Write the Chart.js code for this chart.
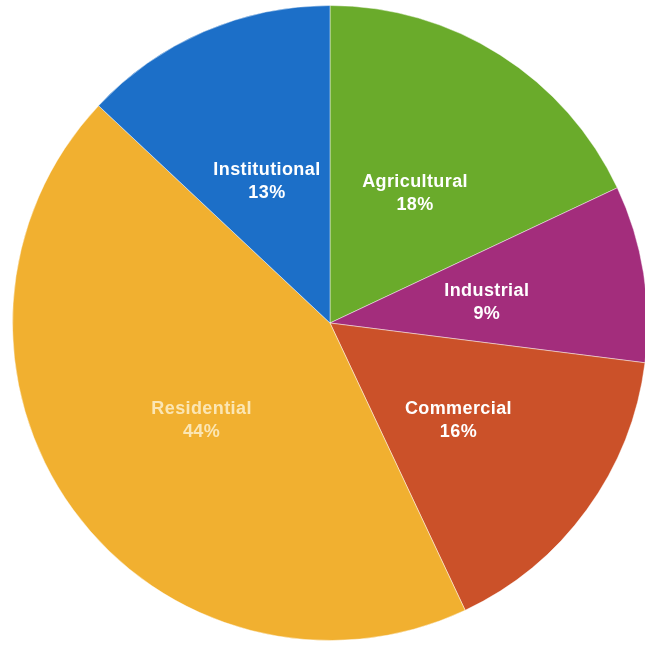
<!DOCTYPE html>
<html>
<head>
<meta charset="utf-8">
<script src="https://cdn.jsdelivr.net/npm/chart.js@4.4.1/dist/chart.umd.min.js"></script>
<style>
  html, body { margin: 0; padding: 0; background: #fff; overflow: hidden; }
  #wrap { width: 660px; height: 645px; }
</style>
</head>
<body>
<div id="wrap"><canvas id="landUse" width="660" height="645"></canvas></div>
<script>
// land use shares, clockwise from 12 o'clock
const categories = ["Agricultural", "Industrial", "Commercial", "Residential", "Institutional"];
const shares = [18, 9, 16, 44, 13];
const sliceColors = ["#6aab2b", "#a32d7c", "#cb5129", "#f1b030", "#1c6fc8"];
const labelColors = ["#ffffff", "#ffffff", "#ffffff", "#fbe6b4", "#ffffff"];

// writes name + percent in the middle of each slice
const sliceLabels = {
  id: "sliceLabels",
  afterDatasetsDraw(chart) {
    const ctx = chart.ctx;
    const meta = chart.getDatasetMeta(0);
    meta.data.forEach((arc, i) => {
      const pos = arc.tooltipPosition();
      ctx.save();
      ctx.font = "bold 18px 'Liberation Sans', Arial, sans-serif";
      ctx.letterSpacing = "0.4px";
      ctx.textAlign = "center";
      ctx.textBaseline = "middle";
      ctx.fillStyle = labelColors[i];
      if (i === 3) ctx.filter = "blur(0.7px)";
      ctx.fillText(categories[i], pos.x, pos.y - 7);
      ctx.fillText(shares[i] + "%", pos.x, pos.y + 16);
      ctx.restore();
    });
  },
};

new Chart(document.getElementById("landUse"), {
  type: "pie",
  data: {
    labels: categories,
    datasets: [
      {
        data: shares,
        backgroundColor: sliceColors,
        borderColor: "rgba(255,255,255,0.45)",
        borderWidth: 1,
      },
    ],
  },
  options: {
    responsive: false,
    animation: false,
    layout: { padding: { left: 12, right: 12, top: 5, bottom: 4 } },
    plugins: {
      legend: { display: false },
      tooltip: { enabled: false },
    },
  },
  plugins: [sliceLabels],
});
</script>
</body>
</html>
